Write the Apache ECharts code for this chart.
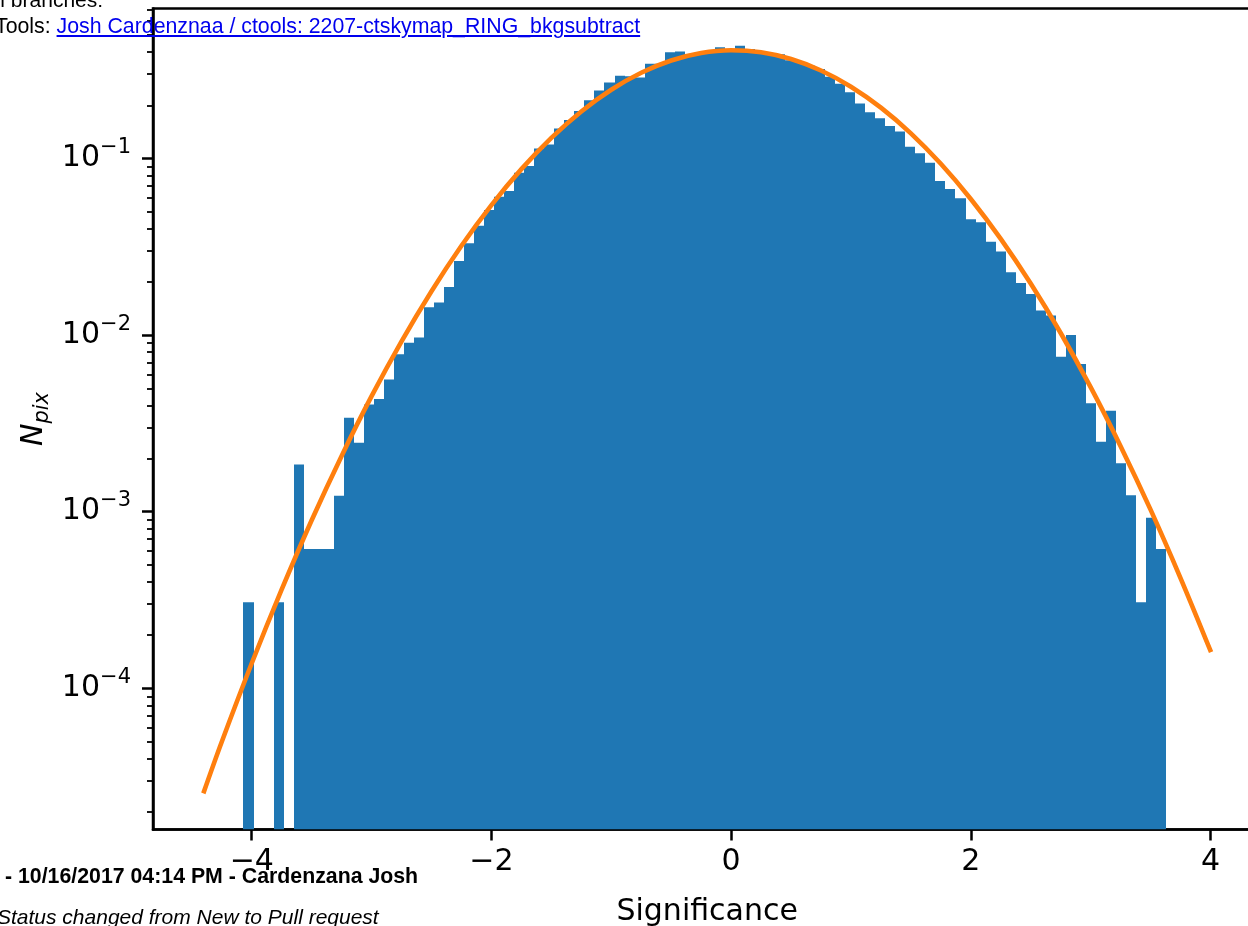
<!DOCTYPE html>
<html><head><meta charset="utf-8">
<script src="https://cdn.jsdelivr.net/npm/echarts@6/dist/echarts.min.js"></script>
<style>
html,body{margin:0;padding:0;background:#fff;overflow:hidden;width:1248px;height:926px}
#chart{position:absolute;left:0;top:0;width:1248px;height:926px}
.t{position:absolute;font-family:"Liberation Sans",Arial,sans-serif;font-size:21px;color:#000;white-space:nowrap;line-height:21px}
.t a{color:#0000ee;text-decoration:underline}
</style></head><body>
<div id="chart"></div>
<div class="t" style="left:-16px;top:-11px">ull branches:</div>
<div class="t" style="left:-5px;top:16px;font-size:21.3px">Tools: <a>Josh Cardenznaa / ctools: 2207-ctskymap_RING_bkgsubtract</a></div>
<div class="t" style="left:5px;top:866px;font-weight:bold;font-size:21.3px">- 10/16/2017 04:14 PM - Cardenzana Josh</div>
<div class="t" style="left:-3px;top:906px;font-style:italic">Status changed from New to Pull request</div>
<script>
// ---- data ----
const binStart = -4.069;
const binWidth = 0.08368;
const density = [
  3.07e-4, 0, 0, 3.07e-4, 0, 1.85e-3, 6.15e-4, 6.15e-4, 6.15e-4, 1.23e-3,
  3.40e-3, 2.46e-3, 4.05e-3, 4.35e-3, 5.6e-3, 7.8e-3, 9.05e-3, 9.7e-3, 0.0144, 0.0153,
  0.0187, 0.0263, 0.0331, 0.0416, 0.0511, 0.0608, 0.0655, 0.0831, 0.0907, 0.114,
  0.120, 0.148, 0.165, 0.186, 0.214, 0.243, 0.269, 0.294, 0.292, 0.288,
  0.344, 0.344, 0.400, 0.404, 0.381, 0.392, 0.400, 0.426, 0.409, 0.435,
  0.417, 0.403, 0.396, 0.389, 0.360, 0.350, 0.335, 0.321, 0.2905, 0.265,
  0.237, 0.205, 0.183, 0.169, 0.153, 0.142, 0.1166, 0.107, 0.0947, 0.0746,
  0.0672, 0.0595, 0.0453, 0.0435, 0.0338, 0.0297, 0.0227, 0.0197, 0.0171, 0.0138,
  0.0129, 7.54e-3, 0.0100, 6.86e-3, 4.11e-3, 2.49e-3, 3.73e-3, 1.88e-3, 1.24e-3, 3.07e-4,
  9.25e-4, 6.15e-4
];
const fitX = [-4.404, -4.25, -4.0, -3.75, -3.5, -3.25, -3.0, -2.75, -2.5, -2.25, -2.0, -1.75, -1.5, -1.25, -1.0, -0.75, -0.5, -0.25, 0,
  0.25, 0.5, 0.75, 1.0, 1.25, 1.5, 1.75, 2.0, 2.25, 2.5, 2.75, 3.0, 3.25, 3.5, 3.75, 4.005];
const fitY = [2.54e-5, 4.98e-5, 1.386e-4, 3.63e-4, 8.95e-4, 2.07e-3, 4.51e-3, 9.22e-3, 0.01773, 0.03207, 0.0545, 0.0871, 0.1308, 0.1847, 0.2451, 0.3058, 0.3587, 0.3955, 0.4099,
  0.3994, 0.3658, 0.3150, 0.2550, 0.1940, 0.1388, 0.0933, 0.0590, 0.03505, 0.01957, 0.01028, 5.07e-3, 2.35e-3, 1.027e-3, 4.21e-4, 1.60e-4];
const xTickValues = [-4, -2, 0, 2, 4];
const yMajorTicks = [1e-4, 1e-3, 1e-2, 1e-1];
const yMinorTicks = [2e-5,3e-5,4e-5,5e-5,6e-5,7e-5,8e-5,9e-5,
  2e-4,3e-4,4e-4,5e-4,6e-4,7e-4,8e-4,9e-4,
  2e-3,3e-3,4e-3,5e-3,6e-3,7e-3,8e-3,9e-3,
  2e-2,3e-2,4e-2,5e-2,6e-2,7e-2,8e-2,9e-2,
  0.2,0.3,0.4,0.5,0.6,0.7];
const X_MIN = -4.824, X_MAX = 4.425;
const Y_MIN = 1.586e-5, Y_MAX = 0.707;

// ---- build ----
const bars = [];
density.forEach((v, k) => {
  if (v > 0) bars.push([binStart + k * binWidth, binStart + (k + 1) * binWidth, v]);
});
const fitData = fitX.map((x, i) => [x, fitY[i]]);

const FONT = 'DejaVu Sans';
const chart = echarts.init(document.getElementById('chart'), null, {renderer: 'canvas'});
chart.setOption({
  animation: false,
  backgroundColor: 'transparent',
  grid: {left: 153, top: 8.5, right: -13.4, bottom: 96.5, show: true, borderColor: '#000', borderWidth: 2.5, containLabel: false, outerBoundsMode: 'none'},
  xAxis: {
    type: 'value', min: X_MIN, max: X_MAX,
    axisLine: {show: true, onZero: false, lineStyle: {color: '#000', width: 2.5}},
    axisTick: {show: true, inside: false, length: 11, lineStyle: {color: '#000', width: 2.5}, customValues: xTickValues},
    axisLabel: {customValues: xTickValues, formatter: v => String(v).replace('-', '\u2212'), color: '#000', fontFamily: FONT, fontSize: 30, margin: 18},
    splitLine: {show: false},
    name: 'Significance', nameLocation: 'middle', nameGap: 68, nameMoveOverlap: false,
    nameTextStyle: {fontFamily: FONT, fontSize: 30, color: '#000'}
  },
  yAxis: [{
    type: 'log', logBase: 10, min: Y_MIN, max: Y_MAX, position: 'left',
    axisLine: {show: true, onZero: false, lineStyle: {color: '#000', width: 2.5}},
    axisTick: {show: true, inside: false, length: 11, lineStyle: {color: '#000', width: 2.5}, customValues: yMajorTicks},
    axisLabel: {
      customValues: yMajorTicks, margin: 22,
      formatter: v => '{b|10}{s|\u2212' + Math.abs(Math.round(Math.log10(v))) + '}',
      rich: {
        b: {fontFamily: FONT, fontSize: 30, color: '#000'},
        s: {fontFamily: FONT, fontSize: 21, color: '#000', padding: [0, 0, 22, 0]}
      }
    },
    splitLine: {show: false},
    name: '{n|N}{s|pix}', nameLocation: 'middle', nameRotate: 90, nameGap: 104, nameMoveOverlap: false,
    nameTextStyle: {
      rich: {
        n: {fontFamily: FONT, fontStyle: 'italic', fontSize: 30, color: '#000', verticalAlign: 'top', lineHeight: 30},
        s: {fontFamily: FONT, fontStyle: 'italic', fontSize: 21, color: '#000', verticalAlign: 'top', lineHeight: 21, padding: [13, 0, 0, 0]}
      }
    }
  }, {
    type: 'log', logBase: 10, min: Y_MIN, max: Y_MAX, position: 'left', offset: 0,
    axisLine: {show: false, onZero: false},
    axisTick: {show: true, inside: false, length: 6, lineStyle: {color: '#000', width: 1.8}, customValues: yMinorTicks},
    axisLabel: {show: false},
    splitLine: {show: false}
  }],
  series: [{
    type: 'custom', xAxisIndex: 0, yAxisIndex: 0, data: bars, encode: {x: [0, 1], y: 2}, clip: true, z: 2, silent: true,
    renderItem: function (params, api) {
      const x0 = api.value(0), x1 = api.value(1), v = api.value(2);
      const p0 = api.coord([x0, v]);
      const p1 = api.coord([x1, v]);
      const bottom = params.coordSys.y + params.coordSys.height;
      const l = Math.round(p0[0]), r = Math.round(p1[0]);
      return {type: 'rect', shape: {x: l, y: p0[1], width: r - l, height: bottom - p0[1]}, style: {fill: '#1f77b4'}};
    }
  }, {
    type: 'line', xAxisIndex: 0, yAxisIndex: 0, data: fitData, smooth: 0.35, showSymbol: false, silent: true, z: 3,
    lineStyle: {color: '#ff7f0e', width: 4.6}
  }]
});
</script>
</body></html>
